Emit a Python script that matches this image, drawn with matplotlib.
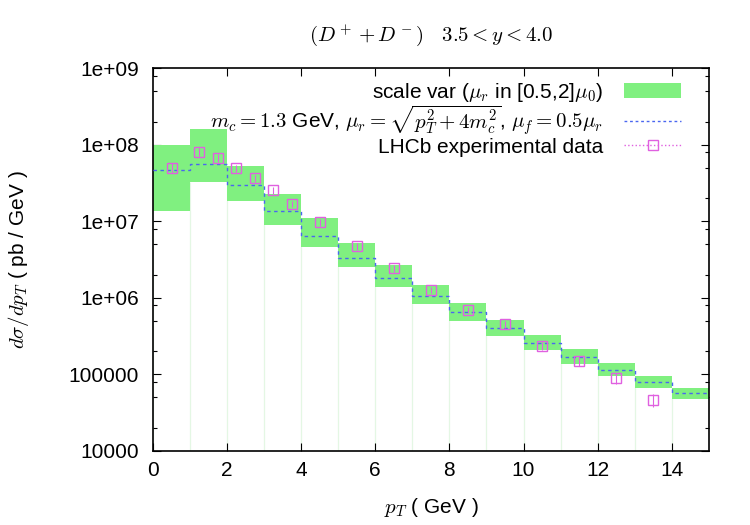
import numpy as np
import matplotlib.pyplot as plt
from matplotlib.patches import Patch
from matplotlib.lines import Line2D
from matplotlib.ticker import LogLocator, FixedLocator, NullFormatter

plt.rcParams['font.family'] = ['Liberation Sans', 'DejaVu Sans']
plt.rcParams['mathtext.fontset'] = 'cm'

# theory bins (pT in GeV)
bin_edges = np.arange(0, 16, 1)
scale_hi = [9.8e7, 1.61e8, 5.25e7, 2.31e7, 1.10e7, 5.14e6, 2.69e6, 1.47e6,
            8.6e5, 5.09e5, 3.23e5, 2.13e5, 1.43e5, 9.62e4, 6.74e4]
scale_lo = [1.37e7, 3.29e7, 1.83e7, 8.93e6, 4.64e6, 2.51e6, 1.40e6, 8.34e5,
            5.02e5, 3.18e5, 2.07e5, 1.37e5, 9.53e4, 6.6e4, 4.73e4]
central = [4.69e7, 5.62e7, 2.95e7, 1.36e7, 6.41e6, 3.33e6, 1.83e6, 1.06e6,
           6.49e5, 3.99e5, 2.58e5, 1.71e5, 1.15e5, 7.92e4, 5.67e4]

# LHCb data
data_pt = [0.5, 1.25, 1.75, 2.25, 2.75, 3.25, 3.75, 4.5, 5.5, 6.5, 7.5,
           8.5, 9.5, 10.5, 11.5, 12.5, 13.5]
data_val = [4.98e7, 8.17e7, 6.8e7, 4.93e7, 3.68e7, 2.54e7, 1.69e7, 9.8e6,
            4.73e6, 2.43e6, 1.27e6, 6.95e5, 4.5e5, 2.36e5, 1.48e5, 8.9e4, 4.64e4]
data_err = [0.15, 0.12, 0.12, 0.1, 0.1, 0.1, 0.1, 0.1, 0.1, 0.1, 0.1,
            0.1, 0.11, 0.12, 0.13, 0.16, 0.2]

green = '#80f080'
blue = '#4a66f0'
pink = '#e060e0'
fs = 15

fig = plt.figure(figsize=(7.5, 5.25), dpi=100)
ax = fig.add_axes([0.204, 0.141, 0.741, 0.729])

hi = np.array(scale_hi)
lo = np.array(scale_lo)
left = bin_edges[:-1]
right = bin_edges[1:]

# faint box outlines below the bands
ax.vlines(left, 1e4, lo, color='#e4f7e4', lw=0.8, zorder=1)
ax.vlines(right, 1e4, lo, color='#e4f7e4', lw=0.8, zorder=1)

ax.bar(left, hi - lo, bottom=lo, width=1, align='edge', color=green,
       linewidth=0, zorder=2)
ax.stairs(central, bin_edges, baseline=None, color=blue, lw=1,
          linestyle=(0, (2.5, 2.5)), zorder=3)

dv = np.array(data_val)
de = np.array(data_err) * dv
ax.errorbar(data_pt, dv, yerr=de, fmt='s', ms=7, mfc='none', mec=pink,
            mew=1, ecolor=pink, elinewidth=0.8, ls='none', capsize=0,
            zorder=4)

ax.set_xlim(0, 15)
ax.set_ylim(1e4, 1e9)
ax.set_yscale('log')
ax.xaxis.set_major_locator(FixedLocator(np.arange(0, 16, 2)))
ax.yaxis.set_minor_locator(LogLocator(base=10, subs=(2, 5, 8), numticks=20))
ax.yaxis.set_minor_formatter(NullFormatter())
ytick_vals = [1e4, 1e5, 1e6, 1e7, 1e8, 1e9]
ytick_text = ['10000', '100000', '1e+06', '1e+07', '1e+08', '1e+09']
ax.set_yticks(ytick_vals)
ax.set_yticklabels(ytick_text)
ax.tick_params(which='both', direction='in', top=True, right=True,
               labelsize=fs)
ax.tick_params(which='major', length=6, width=0.8)
ax.tick_params(which='minor', length=3, width=0.8)
ax.tick_params(axis='x', pad=7)
ax.tick_params(axis='y', pad=10)
for s in ax.spines.values():
    s.set_linewidth(1.2)

ax.set_xlabel(r'$p_T$ ( GeV )', fontsize=fs, labelpad=12)
ax.set_ylabel(r'$d\sigma/dp_T$ ( pb / GeV )', fontsize=fs, labelpad=27)
ax.set_title(r'$(D^+ + D^-)\quad 3.5 < y < 4.0$', fontsize=fs, pad=20)

handles = [
    Patch(facecolor=green, edgecolor='none'),
    Line2D([], [], color=blue, lw=1, linestyle=(0, (2, 2))),
    Line2D([], [], color=pink, lw=1, linestyle=':', marker='s', ms=7,
           mfc='none', mec=pink),
]
labels = [
    r'scale var ($\mu_r$ in [0.5,2]$\mu_0$)',
    r'$m_c = 1.3$ GeV, $\mu_r = \sqrt{p_T^2 + 4m_c^2}$, $\mu_f = 0.5\mu_r$',
    'LHCb experimental data',
]
ax.legend(handles, labels, loc='upper right', frameon=False,
          markerfirst=False, fontsize=fs, handlelength=2.7,
          handleheight=0.8, handletextpad=1.0, labelspacing=0.0,
          borderaxespad=0.2, bbox_to_anchor=(0.972, 1.0))

fig.savefig('out.png', dpi=100)
